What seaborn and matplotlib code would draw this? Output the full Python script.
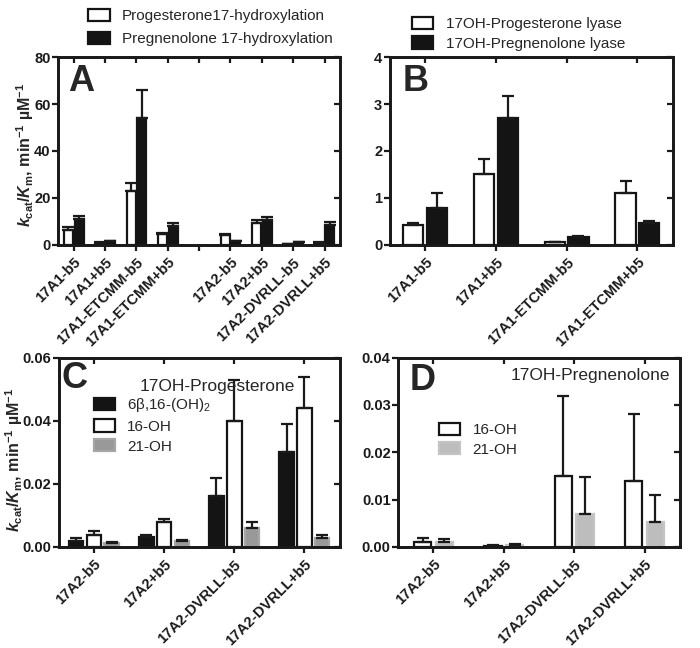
import numpy as np
import pandas as pd
import seaborn as sns
import matplotlib.pyplot as plt
from matplotlib.patches import Patch
from matplotlib.container import BarContainer

# ---- data (value, upper SD) ----
a_cats = ['17A1-b5', '17A1+b5', '17A1-ETCMM-b5', '17A1-ETCMM+b5', '',
          '17A2-b5', '17A2+b5', '17A2-DVRLL-b5', '17A2-DVRLL+b5']
a_series = ['Progesterone17-hydroxylation', 'Pregnenolone 17-hydroxylation']
a_prog = [6.5, 1.0, 23.0, 4.5, None, 4.2, 9.3, 0.3, 1.0]
a_prog_err = [1.0, 0.2, 3.5, 0.6, None, 0.5, 1.2, 0.1, 0.2]
a_preg = [11.0, 1.5, 54.0, 8.0, None, 1.5, 10.5, 1.2, 8.5]
a_preg_err = [1.5, 0.3, 12.0, 1.3, None, 0.3, 1.5, 0.2, 1.3]

b_cats = ['17A1-b5', '17A1+b5', '17A1-ETCMM-b5', '17A1-ETCMM+b5']
b_series = ['17OH-Progesterone lyase', '17OH-Pregnenolone lyase']
b_prog = [0.43, 1.5, 0.06, 1.1]
b_prog_err = [0.04, 0.32, 0.01, 0.27]
b_preg = [0.78, 2.7, 0.17, 0.47]
b_preg_err = [0.32, 0.48, 0.03, 0.05]

cd_cats = ['17A2-b5', '17A2+b5', '17A2-DVRLL-b5', '17A2-DVRLL+b5']
c_series = ['6β,16-(OH)$_\\mathregular{2}$', '16-OH', '21-OH']
c_diol = [0.0020, 0.0033, 0.0160, 0.0300]
c_diol_err = [0.0008, 0.0005, 0.0058, 0.0090]
c_16 = [0.0038, 0.0078, 0.0400, 0.0440]
c_16_err = [0.0014, 0.0010, 0.0130, 0.0100]
c_21 = [0.0012, 0.0020, 0.0060, 0.0028]
c_21_err = [0.0005, 0.0003, 0.0020, 0.0010]

d_series = ['16-OH', '21-OH']
d_16 = [0.0010, 0.0002, 0.0150, 0.0140]
d_16_err = [0.0008, 0.0001, 0.0170, 0.0140]
d_21 = [0.0010, 0.0005, 0.0070, 0.0052]
d_21_err = [0.0007, 0.0002, 0.0077, 0.0058]


def make_df(cats, series, vals, errs):
    rows = []
    for s, v_list, e_list in zip(series, vals, errs):
        for c, v, e in zip(cats, v_list, e_list):
            if v is None:
                continue
            rows.append({'cat': c, 'series': s, 'val': v, 'err': e})
    return pd.DataFrame(rows)


sns.set_style('ticks')
plt.rcParams['font.family'] = ['Liberation Sans', 'DejaVu Sans']
plt.rcParams['mathtext.fontset'] = 'custom'
plt.rcParams['mathtext.it'] = 'Liberation Sans:bold:italic'
plt.rcParams['mathtext.rm'] = 'Liberation Sans'
plt.rcParams['axes.linewidth'] = 1.8
plt.rcParams['xtick.color'] = '#1a1a1a'
plt.rcParams['ytick.color'] = '#1a1a1a'
plt.rcParams['axes.edgecolor'] = '#1a1a1a'

TICK = dict(length=4.5, width=1.6)


def draw_panel(ax, df, cats, series, fills, edges, width, gap, ylim, yticks, fmt):
    pal = dict(zip(series, fills))
    sns.barplot(data=df, x='cat', y='val', hue='series', order=cats,
                hue_order=series, palette=pal, width=width, gap=gap,
                errorbar=None, legend=False, linewidth=1.6, saturation=1, ax=ax)
    bar_conts = [c for c in ax.containers if isinstance(c, BarContainer)]
    for i, cont in enumerate(bar_conts):
        sub = df[df['series'] == series[i]].set_index('cat')
        for bar in cont:
            bar.set_edgecolor(edges[i])
            bar.set_facecolor(fills[i])
            xc = bar.get_x() + bar.get_width() / 2
            c = cats[int(round(xc))]
            err = sub.loc[c, 'err']
            ax.errorbar(xc, bar.get_height(), yerr=[[0], [err]], fmt='none',
                        ecolor='#1a1a1a', elinewidth=1.6, capsize=4, capthick=1.6,
                        zorder=1)
    ax.set_ylim(*ylim)
    ax.set_yticks(yticks)
    ax.set_yticklabels([fmt.format(t) for t in yticks], fontweight='bold', fontsize=10.5)
    ax.set_xlim(-0.5, len(cats) - 0.5)
    ax.set_xticks(range(len(cats)))
    ax.set_xticklabels(cats, rotation=45, ha='right', rotation_mode='anchor',
                       fontweight='bold', fontsize=10.5)
    ax.set_xlabel('')
    ax.set_ylabel('')
    ax.tick_params(axis='y', direction='out', pad=1, **TICK)
    ax.tick_params(axis='x', direction='out', pad=3, **TICK)
    for sp in ax.spines.values():
        sp.set_visible(True)
        sp.set_linewidth(1.8)

    # inward ticks on the top and right frame
    axt = ax.twiny()
    axt.set_xlim(ax.get_xlim())
    axt.set_xticks(range(len(cats)))
    axt.tick_params(axis='x', direction='in', top=True, bottom=False,
                    labeltop=False, labelbottom=False, **TICK)
    axr = ax.twinx()
    axr.set_ylim(ax.get_ylim())
    axr.set_yticks(yticks)
    axr.tick_params(axis='y', direction='in', right=True, left=False,
                    labelright=False, labelleft=False, **TICK)
    for tw in (axt, axr):
        for sp in tw.spines.values():
            sp.set_linewidth(1.8)


def add_legend(ax, labels, fills, edges, spacing=0.35, **kw):
    handles = [Patch(facecolor=f, edgecolor=e, linewidth=1.6) for f, e in zip(fills, edges)]
    leg = ax.legend(handles, labels, frameon=False, fontsize=11, handlelength=1.4,
                    handleheight=0.85, handletextpad=0.8, labelspacing=spacing, **kw)
    leg.set_zorder(10)


ylab = '$k_\\mathregular{cat}$/$K_\\mathregular{m}$, min$^\\mathregular{-1}$ µM$^\\mathregular{-1}$'
BLACK = '#141414'

fig = plt.figure(figsize=(7, 6.48), dpi=100)
axA = fig.add_axes([0.083, 0.622, 0.403, 0.29])
axB = fig.add_axes([0.557, 0.622, 0.404, 0.29])
axC = fig.add_axes([0.084, 0.156, 0.401, 0.292])
axD = fig.add_axes([0.569, 0.156, 0.402, 0.292])

# A
dfA = make_df(a_cats, a_series, [a_prog, a_preg], [a_prog_err, a_preg_err])
draw_panel(axA, dfA, a_cats, a_series, ['white', BLACK], [BLACK, BLACK],
           0.68, 0.15, (0, 80), [0, 20, 40, 60, 80], '{:.0f}')
axA.set_ylabel(ylab, fontsize=11.5, fontweight='bold')
axA.yaxis.set_label_coords(-0.08, 0.48)
add_legend(axA, a_series, ['white', BLACK], [BLACK, BLACK], spacing=0.55,
           loc='lower center', bbox_to_anchor=(0.54, 0.985))
axA.text(0.035, 0.87, 'A', transform=axA.transAxes, fontsize=26,
         fontweight='bold', va='center')

# B
dfB = make_df(b_cats, b_series, [b_prog, b_preg], [b_prog_err, b_preg_err])
draw_panel(axB, dfB, b_cats, b_series, ['white', BLACK], [BLACK, BLACK],
           0.67, 0.15, (0, 4), [0, 1, 2, 3, 4], '{:.0f}')
add_legend(axB, b_series, ['white', BLACK], [BLACK, BLACK],
           loc='lower center', bbox_to_anchor=(0.455, 0.96))
axB.text(0.046, 0.87, 'B', transform=axB.transAxes, fontsize=26,
         fontweight='bold', va='center')

# C
dfC = make_df(cd_cats, c_series, [c_diol, c_16, c_21], [c_diol_err, c_16_err, c_21_err])
draw_panel(axC, dfC, cd_cats, c_series, [BLACK, 'white', '#999999'],
           [BLACK, BLACK, '#a6a6a6'], 0.76, 0.18, (0, 0.06),
           [0, 0.02, 0.04, 0.06], '{:.2f}')
axC.set_ylabel(ylab, fontsize=11.5, fontweight='bold')
axC.yaxis.set_label_coords(-0.12, 0.46)
add_legend(axC, c_series, [BLACK, 'white', '#999999'], [BLACK, BLACK, '#a6a6a6'],
           loc='upper left', bbox_to_anchor=(0.075, 0.87))
axC.text(0.01, 0.89, 'C', transform=axC.transAxes, fontsize=26,
         fontweight='bold', va='center')
axC.text(0.565, 0.85, '17OH-Progesterone', transform=axC.transAxes,
         fontsize=12.5, ha='center', va='center')

# D
dfD = make_df(cd_cats, d_series, [d_16, d_21], [d_16_err, d_21_err])
draw_panel(axD, dfD, cd_cats, d_series, ['white', '#bdbdbd'], [BLACK, '#c4c4c4'],
           0.62, 0.2, (0, 0.04), [0, 0.01, 0.02, 0.03, 0.04], '{:.2f}')
add_legend(axD, d_series, ['white', '#bdbdbd'], [BLACK, '#c4c4c4'],
           loc='upper left', bbox_to_anchor=(0.095, 0.73))
axD.text(0.04, 0.88, 'D', transform=axD.transAxes, fontsize=26,
         fontweight='bold', va='center')
axD.text(0.965, 0.905, '17OH-Pregnenolone', transform=axD.transAxes,
         fontsize=12.5, ha='right', va='center')

fig.savefig('out.png', dpi=100)
